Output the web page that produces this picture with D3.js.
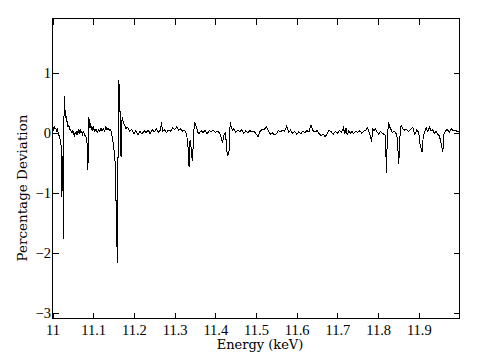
<!DOCTYPE html>
<html>
<head>
<meta charset="utf-8">
<script src="https://cdn.jsdelivr.net/npm/d3@7"></script>
<style>
  body { margin: 0; background: #fff; }
  svg { display: block; }
</style>
</head>
<body>
<svg id="chart" width="480" height="360"></svg>
<script>
// percentage deviation vs energy
var energy = [
  11.000, 11.002, 11.004, 11.006, 11.008, 11.010, 11.012, 11.014, 11.016, 11.018,
  11.020, 11.022, 11.023, 11.025, 11.027, 11.028, 11.0295, 11.031, 11.032, 11.034,
  11.036, 11.038, 11.040, 11.042, 11.044, 11.046, 11.048, 11.050, 11.052, 11.054,
  11.056, 11.058, 11.060, 11.062, 11.064, 11.066, 11.068, 11.070, 11.072, 11.074,
  11.076, 11.078, 11.080, 11.082, 11.084, 11.086, 11.087, 11.088, 11.0895, 11.091,
  11.093, 11.095, 11.097, 11.099, 11.101, 11.104, 11.107, 11.110, 11.113, 11.116,
  11.119, 11.122, 11.125, 11.128, 11.131, 11.134, 11.137, 11.140, 11.142, 11.144,
  11.146, 11.148, 11.150, 11.152, 11.154, 11.155, 11.156, 11.157, 11.158, 11.159,
  11.160, 11.161, 11.162, 11.163, 11.164, 11.165, 11.166, 11.167, 11.168, 11.169,
  11.170, 11.171, 11.173, 11.175, 11.177, 11.179, 11.181, 11.183,
  11.185, 11.190, 11.195, 11.200, 11.205, 11.210, 11.215, 11.220, 11.225, 11.230,
  11.235, 11.240, 11.245, 11.250, 11.255, 11.260, 11.265, 11.268, 11.270, 11.275,
  11.280, 11.285, 11.290, 11.295, 11.300, 11.305, 11.310, 11.315, 11.320, 11.325,
  11.330, 11.333, 11.3355, 11.337, 11.339, 11.341, 11.3435, 11.346, 11.3485, 11.351,
  11.354, 11.357, 11.360, 11.365, 11.370, 11.375, 11.380, 11.385, 11.390, 11.395,
  11.400, 11.405, 11.410, 11.415, 11.418, 11.421, 11.424, 11.426, 11.428, 11.4305,
  11.433, 11.435, 11.4365, 11.439, 11.442, 11.445, 11.450, 11.455, 11.460, 11.465,
  11.470, 11.475, 11.480, 11.485, 11.490, 11.495, 11.500, 11.505, 11.510, 11.515,
  11.520, 11.525, 11.530, 11.535, 11.540, 11.545, 11.550, 11.555, 11.560, 11.565,
  11.570, 11.575, 11.578, 11.580, 11.585, 11.590, 11.595, 11.600, 11.605, 11.610,
  11.615, 11.620, 11.625, 11.630, 11.635, 11.640, 11.645, 11.650, 11.655, 11.660,
  11.665, 11.670, 11.675, 11.680, 11.685, 11.690, 11.695, 11.700, 11.705, 11.710,
  11.715, 11.718, 11.721, 11.724, 11.728, 11.732, 11.736, 11.740, 11.745, 11.750,
  11.755, 11.760, 11.765, 11.770, 11.774, 11.778, 11.782, 11.784, 11.787, 11.790,
  11.794, 11.798, 11.802, 11.806, 11.810, 11.814, 11.818, 11.8205, 11.8225, 11.8255,
  11.828, 11.831, 11.835, 11.839, 11.843, 11.846, 11.8476, 11.8508, 11.853, 11.8567,
  11.860, 11.865, 11.870, 11.875, 11.880, 11.885, 11.890, 11.895, 11.900, 11.903,
  11.9083, 11.911, 11.914, 11.918, 11.922, 11.926, 11.930, 11.934, 11.938, 11.942,
  11.946, 11.950, 11.953, 11.959, 11.962, 11.966, 11.970, 11.975, 11.980, 11.985,
  11.990, 11.995, 12.000
];
var deviation = [
  0.08, 0.05, 0.10, 0.06, 0.07, 0.03, 0.05, 0.00, -0.05, -0.10,
  -0.12, -0.30, -1.08, -0.40, -1.78, 0.20, 0.60, 0.25, 0.38, 0.20,
  0.18, 0.10, 0.12, 0.06, 0.04, 0.02, 0.00, 0.03, -0.02, -0.05,
  0.00, -0.03, 0.02, -0.02, 0.03, 0.00, 0.04, -0.01, 0.02, -0.03,
  0.01, -0.02, -0.05, -0.07, -0.10, -0.30, -0.62, -0.20, 0.25, 0.08,
  0.15, 0.05, 0.10, 0.03, 0.08, 0.02, 0.06, 0.00, 0.05, 0.02,
  0.07, 0.03, 0.06, 0.02, 0.09, 0.05, 0.07, 0.04, 0.05, 0.02,
  -0.05, -0.12, -0.22, -0.35, -0.50, -0.80, -1.10, -1.85, -1.60, -2.17,
  -1.30, -0.40, 0.60, 0.88, 0.65, 0.80, 0.30, -0.15, -0.38, -0.40,
  0.05, 0.25, 0.20, 0.16, 0.12, 0.10, 0.06, 0.08,
  0.08, 0.02, 0.05, -0.02, 0.03, -0.04, 0.02, -0.03, 0.03, 0.00,
  0.04, -0.02, 0.05, 0.01, 0.06, 0.00, 0.04, 0.18, 0.02, 0.05,
  0.00, 0.04, 0.02, 0.08, 0.05, 0.09, 0.04, 0.06, 0.02, 0.04,
  -0.05, -0.25, -0.57, -0.15, -0.12, -0.30, -0.47, -0.20, 0.18, 0.14,
  0.08, 0.00, -0.02, 0.03, 0.00, 0.04, -0.02, 0.03, 0.01, 0.04,
  0.00, 0.02, 0.00, -0.10, -0.17, -0.05, 0.00, -0.08, -0.30, -0.38,
  -0.36, -0.20, 0.17, 0.10, 0.04, 0.06, 0.00, 0.04, 0.01, 0.05,
  -0.02, 0.03, 0.00, 0.03, 0.01, 0.02, -0.02, -0.07, 0.02, 0.05,
  0.04, 0.10, 0.03, -0.03, 0.00, -0.04, -0.02, 0.03, 0.01, 0.04,
  0.02, 0.10, 0.06, 0.00, 0.04, -0.02, 0.02, -0.03, 0.01, -0.02,
  0.02, 0.00, 0.03, 0.01, 0.12, 0.03, 0.01, 0.03, -0.02, -0.05,
  -0.03, -0.07, -0.02, 0.04, 0.01, -0.03, 0.02, -0.01, 0.03, 0.00,
  0.08, -0.03, 0.08, -0.04, 0.03, -0.01, 0.02, -0.02, 0.02, 0.00,
  0.03, -0.01, 0.02, 0.04, 0.08, 0.00, -0.08, -0.15, 0.05, 0.03,
  0.06, 0.00, -0.03, 0.02, -0.01, -0.03, -0.05, -0.67, -0.12, 0.17,
  0.10, 0.06, 0.00, 0.02, 0.00, -0.05, -0.15, -0.53, -0.12, 0.13,
  0.07, 0.04, 0.05, 0.02, 0.05, 0.09, -0.03, 0.04, 0.00, -0.20,
  -0.33, -0.05, 0.00, 0.08, 0.02, 0.09, 0.03, 0.05, -0.02, 0.02,
  -0.03, -0.05, -0.12, -0.33, -0.02, 0.03, 0.05, 0.00, 0.06, 0.03,
  0.04, 0.01, 0.02
];

var xTicks = [11, 11.1, 11.2, 11.3, 11.4, 11.5, 11.6, 11.7, 11.8, 11.9];
var xTickLabels = ["11", "11.1", "11.2", "11.3", "11.4", "11.5", "11.6", "11.7", "11.8", "11.9"];
var yTicks = [-3, -2, -1, 0, 1];
var yTickLabels = ["\u22123", "\u22122", "\u22121", "0", "1"];

var box = {left: 52.5, right: 459.5, top: 18.5, bottom: 318.5};

var svg = d3.select("#chart");

var x = d3.scaleLinear().domain([11, 12]).range([box.left, box.right]);
var y = d3.scaleLinear().domain([-3.1, 1.9]).range([box.bottom, box.top]);

var tickFont = "'Liberation Serif', serif";
var titleFont = "'DejaVu Serif', serif";

// bottom axis with labels, ticks pointing in
var gx = svg.append("g")
  .attr("transform", "translate(0," + box.bottom + ")")
  .call(d3.axisBottom(x).tickValues(xTicks)
    .tickFormat(function(d, i) { return xTickLabels[i]; })
    .tickSize(-6).tickSizeOuter(0).tickPadding(6));
gx.select(".domain").remove();

// top axis, ticks only
var gxt = svg.append("g")
  .attr("transform", "translate(0," + box.top + ")")
  .call(d3.axisTop(x).tickValues(xTicks).tickFormat("").tickSize(-6).tickSizeOuter(0));
gxt.select(".domain").remove();

var gy = svg.append("g")
  .attr("transform", "translate(" + box.left + ",0)")
  .call(d3.axisLeft(y).tickValues(yTicks)
    .tickFormat(function(d, i) { return yTickLabels[i]; })
    .tickSize(-6).tickSizeOuter(0).tickPadding(1.5));
gy.select(".domain").remove();

var gyr = svg.append("g")
  .attr("transform", "translate(" + box.right + ",0)")
  .call(d3.axisRight(y).tickValues(yTicks).tickFormat("").tickSize(-6).tickSizeOuter(0));
gyr.select(".domain").remove();

svg.selectAll(".tick line").attr("stroke", "#000").attr("shape-rendering", "crispEdges");
svg.selectAll(".tick text")
  .attr("fill", "#000")
  .style("font-family", tickFont)
  .style("font-size", "14.5px");

// frame
svg.append("rect")
  .attr("x", box.left).attr("y", box.top)
  .attr("width", box.right - box.left).attr("height", box.bottom - box.top)
  .attr("fill", "none").attr("stroke", "#000")
  .attr("shape-rendering", "crispEdges");

// the trace
var line = d3.line()
  .x(function(d, i) { return x(energy[i]); })
  .y(function(d) { return y(d); });

svg.append("path")
  .datum(deviation)
  .attr("d", line)
  .attr("fill", "none")
  .attr("stroke", "#000")
  .attr("stroke-width", 1)
  .attr("shape-rendering", "crispEdges");

// axis titles
svg.append("text")
  .attr("x", 260).attr("y", 349)
  .attr("text-anchor", "middle")
  .style("font-family", titleFont)
  .style("font-size", "13px")
  .text("Energy (keV)");

svg.append("text")
  .attr("transform", "translate(27,188) rotate(-90)")
  .attr("text-anchor", "middle")
  .style("font-family", titleFont)
  .style("font-size", "13.5px")
  .text("Percentage Deviation");
</script>
</body>
</html>
